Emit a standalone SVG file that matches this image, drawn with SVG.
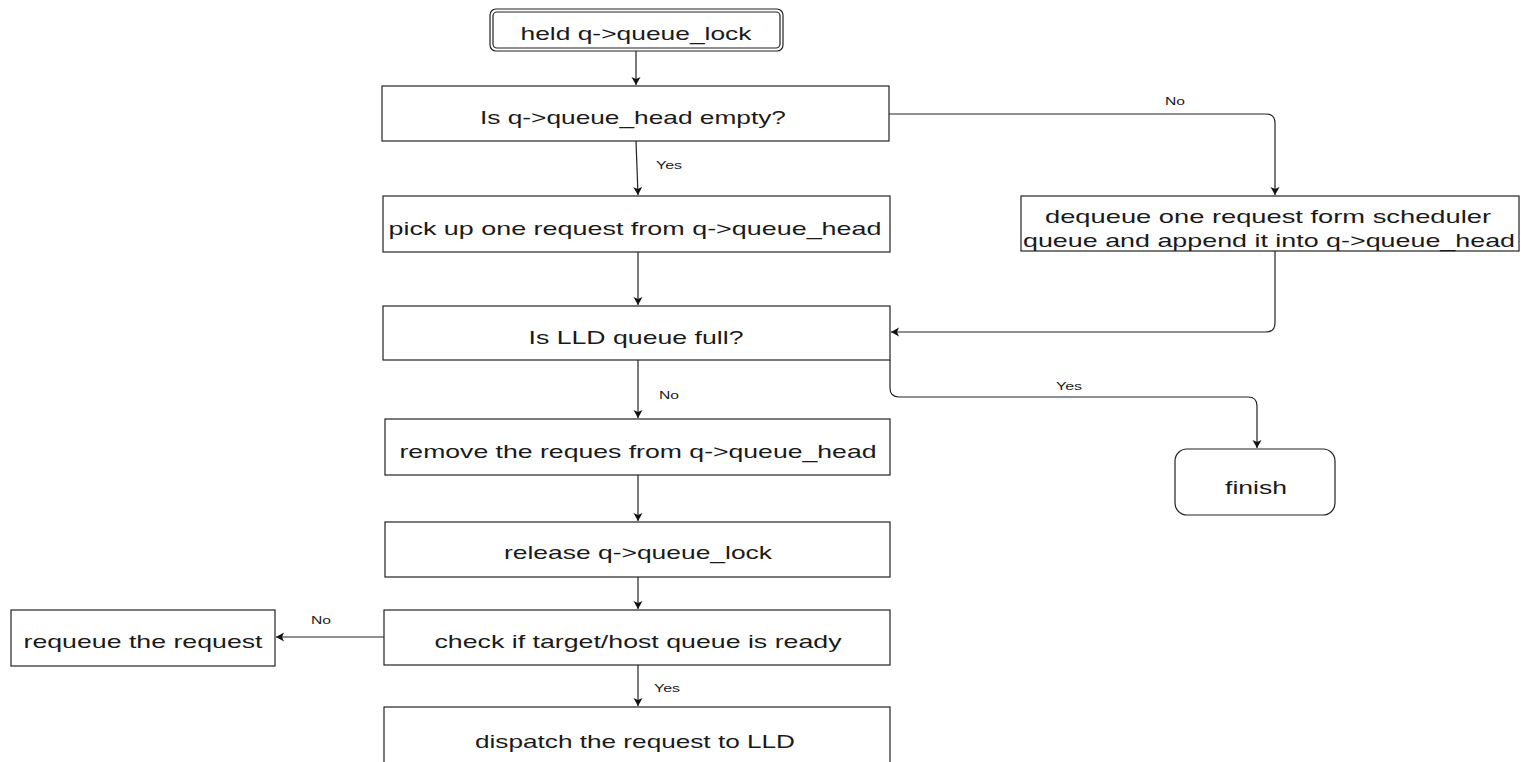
<svg xmlns="http://www.w3.org/2000/svg" width="1521" height="762" viewBox="0 0 1521 762">
<style>
.box{fill:#fff;stroke:#222;stroke-width:1.2}
.t{font-family:"Liberation Sans",Arial,sans-serif;font-size:19px;fill:#1a1a1a;text-anchor:middle}
.l{font-family:"Liberation Sans",Arial,sans-serif;font-size:11px;fill:#1a1a1a;text-anchor:middle}
.c{fill:none;stroke:#222;stroke-width:1.2}
</style>
<defs>
<marker id="ah" markerWidth="10" markerHeight="10" refX="8" refY="4.5" orient="auto" markerUnits="userSpaceOnUse">
<path d="M0,0 L8,4.5 L0,9 L2,4.5 Z" fill="#111"/>
</marker>
</defs>
<rect width="1521" height="762" fill="#fff"/>
<g id="connectors">
<path class="c" d="M636,51 V85" marker-end="url(#ah)"/>
<path class="c" d="M636,141 L638,195" marker-end="url(#ah)"/>
<path class="c" d="M638,252 V305" marker-end="url(#ah)"/>
<path class="c" d="M638,360 V418" marker-end="url(#ah)"/>
<path class="c" d="M638,475 V521" marker-end="url(#ah)"/>
<path class="c" d="M638,577 V609" marker-end="url(#ah)"/>
<path class="c" d="M638,665 V706" marker-end="url(#ah)"/>
<path class="c" d="M384,637 H276" marker-end="url(#ah)"/>
<path class="c" d="M889,114 H1266 Q1275,114 1275,123 V195" marker-end="url(#ah)"/>
<path class="c" d="M1275,251 V323 Q1275,332 1266,332 H891" marker-end="url(#ah)"/>
<path class="c" d="M890,360 V388 Q890,397 899,397 H1248 Q1257,397 1257,406 V448" marker-end="url(#ah)"/>
<text class="l" x="1175" y="105" textLength="20" lengthAdjust="spacingAndGlyphs">No</text>
<text class="l" x="669" y="169" textLength="26" lengthAdjust="spacingAndGlyphs">Yes</text>
<text class="l" x="669" y="399" textLength="20" lengthAdjust="spacingAndGlyphs">No</text>
<text class="l" x="1069" y="390" textLength="26" lengthAdjust="spacingAndGlyphs">Yes</text>
<text class="l" x="321" y="624" textLength="20" lengthAdjust="spacingAndGlyphs">No</text>
<text class="l" x="667" y="692" textLength="26" lengthAdjust="spacingAndGlyphs">Yes</text>
</g>
<g id="n_held">
<rect class="box" x="490" y="9" width="293" height="42" rx="6"/>
<rect class="box" x="493" y="12" width="287" height="36" rx="4"/>
<text class="t" x="636" y="40" textLength="231" lengthAdjust="spacingAndGlyphs">held q-&gt;queue_lock</text>
</g>
<g id="n_empty">
<rect class="box" x="382" y="86" width="507" height="55"/>
<text class="t" x="633" y="124" textLength="306" lengthAdjust="spacingAndGlyphs">Is q-&gt;queue_head empty?</text>
</g>
<g id="n_pick">
<rect class="box" x="383" y="196" width="507" height="56"/>
<text class="t" x="635" y="235" textLength="493" lengthAdjust="spacingAndGlyphs">pick up one request from q-&gt;queue_head</text>
</g>
<g id="n_dequeue">
<rect class="box" x="1021" y="196" width="498" height="55"/>
<text class="t" x="1268" y="223" textLength="446" lengthAdjust="spacingAndGlyphs">dequeue one request form scheduler</text>
<text class="t" x="1269" y="247" textLength="492" lengthAdjust="spacingAndGlyphs">queue and append it into q-&gt;queue_head</text>
</g>
<g id="n_full">
<rect class="box" x="383" y="306" width="507" height="54"/>
<text class="t" x="636" y="344" textLength="215" lengthAdjust="spacingAndGlyphs">Is LLD queue full?</text>
</g>
<g id="n_remove">
<rect class="box" x="385" y="419" width="505" height="56"/>
<text class="t" x="638" y="458" textLength="477" lengthAdjust="spacingAndGlyphs">remove the reques from q-&gt;queue_head</text>
</g>
<g id="n_finish">
<rect class="box" x="1175" y="449" width="160" height="66" rx="12"/>
<text class="t" x="1256" y="494" textLength="62" lengthAdjust="spacingAndGlyphs">finish</text>
</g>
<g id="n_release">
<rect class="box" x="385" y="522" width="505" height="55"/>
<text class="t" x="638" y="559" textLength="268" lengthAdjust="spacingAndGlyphs">release q-&gt;queue_lock</text>
</g>
<g id="n_check">
<rect class="box" x="384" y="610" width="506" height="55"/>
<text class="t" x="638" y="648" textLength="407" lengthAdjust="spacingAndGlyphs">check if target/host queue is ready</text>
</g>
<g id="n_requeue">
<rect class="box" x="11" y="610" width="264" height="56"/>
<text class="t" x="143" y="648" textLength="239" lengthAdjust="spacingAndGlyphs">requeue the request</text>
</g>
<g id="n_dispatch">
<rect class="box" x="384" y="707" width="506" height="70"/>
<text class="t" x="635" y="748" textLength="320" lengthAdjust="spacingAndGlyphs">dispatch the request to LLD</text>
</g>
</svg>
